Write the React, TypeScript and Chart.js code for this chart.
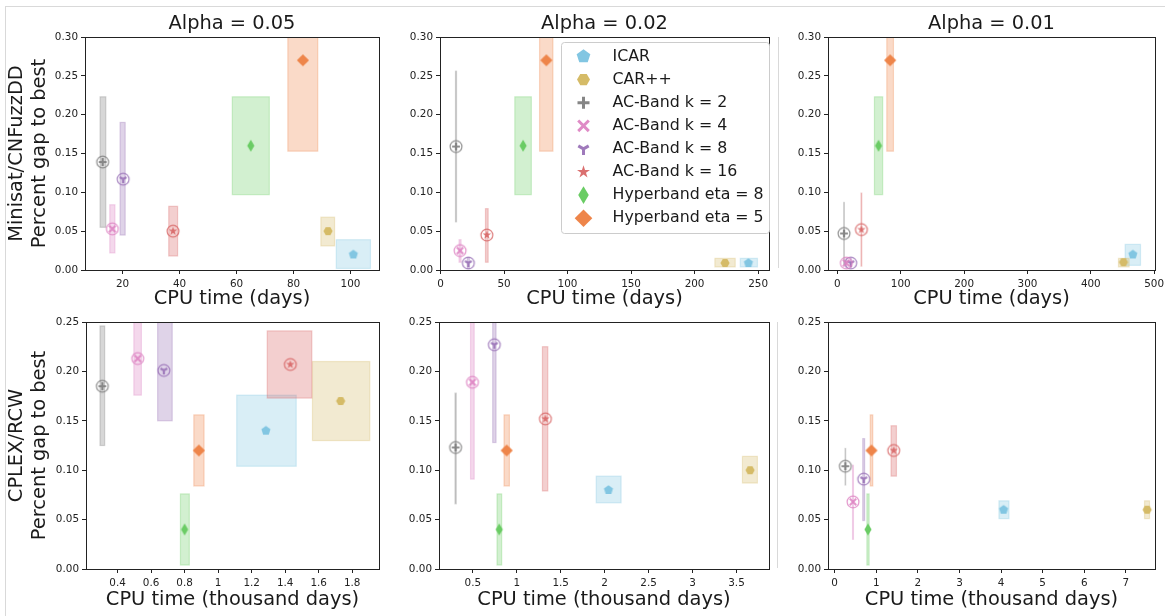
import React, { useEffect, useRef } from 'react';
import { Chart, registerables } from 'chart.js';

Chart.register(...registerables);
Chart.defaults.font.family = "'DejaVu Sans', sans-serif";

// ---------------- data ----------------
const SERIES_LABELS = [
  'ICAR',
  'CAR++',
  'AC-Band k = 2',
  'AC-Band k = 4',
  'AC-Band k = 8',
  'AC-Band k = 16',
  'Hyperband eta = 8',
  'Hyperband eta = 5',
];

const COL_TITLES = ['Alpha = 0.05', 'Alpha = 0.02', 'Alpha = 0.01'];
const ROW_Y_TITLES = [
  ['Minisat/CNFuzzDD', 'Percent gap to best'],
  ['CPLEX/RCW', 'Percent gap to best'],
];
const ROW_X_TITLES = ['CPU time (days)', 'CPU time (thousand days)'];

const TOP_Y_TICKS = [0, 0.05, 0.1, 0.15, 0.2, 0.25, 0.3];
const BOTTOM_Y_TICKS = [0, 0.05, 0.1, 0.15, 0.2, 0.25];
const MINISAT_A05_X_TICKS = [20, 40, 60, 80, 100];
const MINISAT_A02_X_TICKS = [0, 50, 100, 150, 200, 250];
const MINISAT_A01_X_TICKS = [0, 100, 200, 300, 400, 500];
const CPLEX_A05_X_TICKS = [0.4, 0.6, 0.8, 1, 1.2, 1.4, 1.6, 1.8];
const CPLEX_A02_X_TICKS = [0.5, 1, 1.5, 2, 2.5, 3, 3.5];
const CPLEX_A01_X_TICKS = [0, 1, 2, 3, 4, 5, 6, 7];

const X_MIN = [6.8, -0.4, -14.8, 0.2115, 0.115, -0.16];
const X_MAX = [110.0, 258.6, 501.3, 1.96, 3.87, 7.7];
const Y_MAX = [0.3, 0.3, 0.3, 0.25, 0.25, 0.25];

// Minisat/CNFuzzDD, alpha = 0.05
const minisatA05X = [101.0, 92.1, 13.0, 16.4, 20.2, 37.7, 65.0, 83.3];
const minisatA05Y = [0.02, 0.05, 0.139, 0.053, 0.117, 0.05, 0.16, 0.27];
const minisatA05XLo = [95.0, 89.6, 12.1, 15.5, 19.1, 36.2, 58.5, 78.0];
const minisatA05XHi = [107.0, 94.4, 14.1, 17.3, 20.9, 39.3, 71.5, 88.5];
const minisatA05YLo = [0.002, 0.031, 0.055, 0.022, 0.045, 0.018, 0.097, 0.153];
const minisatA05YHi = [0.039, 0.068, 0.223, 0.084, 0.19, 0.082, 0.223, 0.387];

// Minisat/CNFuzzDD, alpha = 0.02
const minisatA02X = [242.4, 224.0, 12.2, 15.4, 21.9, 36.5, 65.0, 83.3];
const minisatA02Y = [0.009, 0.009, 0.159, 0.025, 0.009, 0.045, 0.16, 0.27];
const minisatA02XLo = [236.0, 216.0, 11.8, 14.6, 21.1, 35.4, 58.5, 78.0];
const minisatA02XHi = [249.5, 232.0, 12.6, 16.2, 22.7, 37.5, 71.5, 88.5];
const minisatA02YLo = [0.004, 0.004, 0.062, 0.01, 0.002, 0.01, 0.097, 0.153];
const minisatA02YHi = [0.015, 0.015, 0.256, 0.039, 0.016, 0.079, 0.223, 0.387];

// Minisat/CNFuzzDD, alpha = 0.01
const minisatA01X = [466.3, 451.5, 10.5, 14.2, 21.1, 37.9, 65.0, 83.3];
const minisatA01Y = [0.02, 0.01, 0.047, 0.009, 0.009, 0.052, 0.16, 0.27];
const minisatA01XLo = [454.2, 443.6, 10.0, 13.5, 20.3, 37.3, 58.5, 78.0];
const minisatA01XHi = [478.4, 460.5, 11.0, 14.9, 21.9, 38.5, 71.5, 88.5];
const minisatA01YLo = [0.006, 0.004, 0.007, 0.003, 0.003, 0.005, 0.097, 0.153];
const minisatA01YHi = [0.033, 0.015, 0.087, 0.015, 0.015, 0.099, 0.223, 0.387];

// CPLEX/RCW, alpha = 0.05 (thousand days)
const cplexA05X = [1.285, 1.731, 0.309, 0.52, 0.676, 1.431, 0.8, 0.885];
const cplexA05Y = [0.14, 0.17, 0.185, 0.213, 0.201, 0.207, 0.04, 0.12];
const cplexA05XLo = [1.111, 1.563, 0.295, 0.497, 0.639, 1.293, 0.775, 0.855];
const cplexA05XHi = [1.466, 1.905, 0.323, 0.542, 0.726, 1.559, 0.828, 0.916];
const cplexA05YLo = [0.104, 0.13, 0.125, 0.176, 0.15, 0.173, 0.004, 0.084];
const cplexA05YHi = [0.176, 0.21, 0.246, 0.25, 0.252, 0.241, 0.076, 0.156];

// CPLEX/RCW, alpha = 0.02
const cplexA02X = [2.043, 3.655, 0.304, 0.496, 0.745, 1.326, 0.8, 0.885];
const cplexA02Y = [0.08, 0.1, 0.123, 0.189, 0.227, 0.152, 0.04, 0.12];
const cplexA02XLo = [1.904, 3.568, 0.297, 0.474, 0.726, 1.292, 0.775, 0.855];
const cplexA02XHi = [2.187, 3.738, 0.311, 0.515, 0.764, 1.353, 0.828, 0.916];
const cplexA02YLo = [0.067, 0.087, 0.066, 0.091, 0.128, 0.079, 0.004, 0.084];
const cplexA02YHi = [0.094, 0.114, 0.178, 0.287, 0.326, 0.225, 0.076, 0.156];

// CPLEX/RCW, alpha = 0.01
const cplexA01X = [4.061, 7.512, 0.257, 0.441, 0.698, 1.42, 0.8, 0.885];
const cplexA01Y = [0.06, 0.06, 0.104, 0.068, 0.091, 0.12, 0.04, 0.12];
const cplexA01XLo = [3.949, 7.448, 0.25, 0.43, 0.675, 1.356, 0.775, 0.855];
const cplexA01XHi = [4.19, 7.568, 0.265, 0.452, 0.72, 1.485, 0.828, 0.916];
const cplexA01YLo = [0.051, 0.051, 0.085, 0.03, 0.049, 0.094, 0.004, 0.084];
const cplexA01YHi = [0.069, 0.069, 0.122, 0.105, 0.132, 0.145, 0.076, 0.156];

// ---------------- styles ----------------
const COLORS = ['#82c6e2', '#d5bb67', '#797979', '#dc7ec0', '#956cb4', '#d65f5f', '#6acc64', '#ee854a'];
const MARKERS = ['pentagon', 'hexagon', 'plus', 'x', 'tri', 'star', 'thin_diamond', 'diamond'];
const RINGED = [false, false, true, true, true, true, false, false];
const PLOT_SIZE: Record<string, number> = {
  pentagon: 4.8, hexagon: 4.6, plus: 3.9, x: 3.2, tri: 3.9, star: 4.5, thin_diamond: 6.0, diamond: 6.1,
};
const LEGEND_SIZE: Record<string, number> = {
  pentagon: 7.2, hexagon: 6.5, plus: 6, x: 5.3, tri: 6, star: 6.8, thin_diamond: 8.8, diamond: 8.8,
};
const TEXT = '#1a1a1a';
const AXIS = '#222';
const FONT = "'DejaVu Sans', sans-serif";

function drawShape(ctx: CanvasRenderingContext2D, kind: string, cx: number, cy: number, s: number, color: string, lwScale = 1) {
  ctx.fillStyle = color;
  ctx.strokeStyle = color;
  ctx.lineCap = 'butt';
  const poly = (pts: [number, number][]) => {
    ctx.beginPath();
    pts.forEach(([px, py], i) => (i ? ctx.lineTo(px, py) : ctx.moveTo(px, py)));
    ctx.closePath();
    ctx.fill();
  };
  if (kind === 'pentagon') {
    const pts: [number, number][] = [];
    for (let k = 0; k < 5; k++) {
      const a = -Math.PI / 2 + (k * 2 * Math.PI) / 5;
      pts.push([cx + s * Math.cos(a), cy + s * Math.sin(a)]);
    }
    poly(pts);
  } else if (kind === 'hexagon') {
    const pts: [number, number][] = [];
    for (let k = 0; k < 6; k++) {
      const a = (k * Math.PI) / 3;
      pts.push([cx + s * Math.cos(a), cy + s * Math.sin(a)]);
    }
    poly(pts);
  } else if (kind === 'plus') {
    ctx.lineWidth = s * 0.5 * lwScale;
    ctx.beginPath();
    ctx.moveTo(cx - s, cy);
    ctx.lineTo(cx + s, cy);
    ctx.moveTo(cx, cy - s);
    ctx.lineTo(cx, cy + s);
    ctx.stroke();
  } else if (kind === 'x') {
    ctx.lineWidth = s * 0.55 * lwScale;
    ctx.beginPath();
    ctx.moveTo(cx - s, cy - s);
    ctx.lineTo(cx + s, cy + s);
    ctx.moveTo(cx - s, cy + s);
    ctx.lineTo(cx + s, cy - s);
    ctx.stroke();
  } else if (kind === 'tri') {
    ctx.lineWidth = s * 0.5 * lwScale;
    ctx.beginPath();
    ctx.moveTo(cx, cy);
    ctx.lineTo(cx, cy + s);
    ctx.moveTo(cx, cy);
    ctx.lineTo(cx - s * 0.866, cy - s * 0.5);
    ctx.moveTo(cx, cy);
    ctx.lineTo(cx + s * 0.866, cy - s * 0.5);
    ctx.stroke();
  } else if (kind === 'star') {
    const pts: [number, number][] = [];
    for (let k = 0; k < 10; k++) {
      const r = k % 2 === 0 ? s : s * 0.382;
      const a = -Math.PI / 2 + (k * Math.PI) / 5;
      pts.push([cx + r * Math.cos(a), cy + r * Math.sin(a)]);
    }
    poly(pts);
  } else if (kind === 'thin_diamond') {
    poly([[cx, cy - s], [cx + 0.6 * s, cy], [cx, cy + s], [cx - 0.6 * s, cy]]);
  } else if (kind === 'diamond') {
    poly([[cx, cy - s], [cx + s, cy], [cx, cy + s], [cx - s, cy]]);
  }
}

function makeMarkerImage(i: number): HTMLCanvasElement {
  const size = 18;
  const c = document.createElement('canvas');
  c.width = size;
  c.height = size;
  const ctx = c.getContext('2d') as CanvasRenderingContext2D;
  const m = size / 2;
  if (RINGED[i]) {
    ctx.globalAlpha = 0.8;
    ctx.beginPath();
    ctx.arc(m, m, 5.9, 0, Math.PI * 2);
    ctx.lineWidth = 1.25;
    ctx.strokeStyle = COLORS[i];
    ctx.stroke();
  }
  ctx.globalAlpha = RINGED[i] ? 0.85 : 1;
  drawShape(ctx, MARKERS[i], m, m, PLOT_SIZE[MARKERS[i]], COLORS[i], 1.15);
  return c;
}

type PanelDef = {
  title: string | null;
  yTitle: string[] | null;
  xTitle: string;
  x: number[]; y: number[]; xLo: number[]; xHi: number[]; yLo: number[]; yHi: number[];
  xMin: number; xMax: number; yMax: number;
  xTicks: number[]; yTicks: number[];
  legend: boolean;
  left: number; top: number; width: number; height: number;
  yAxisW: number; xAxisH: number; padTop: number; padRight: number; xTitlePad: number;
};

const PANEL_DATA = [
  [minisatA05X, minisatA05Y, minisatA05XLo, minisatA05XHi, minisatA05YLo, minisatA05YHi, MINISAT_A05_X_TICKS],
  [minisatA02X, minisatA02Y, minisatA02XLo, minisatA02XHi, minisatA02YLo, minisatA02YHi, MINISAT_A02_X_TICKS],
  [minisatA01X, minisatA01Y, minisatA01XLo, minisatA01XHi, minisatA01YLo, minisatA01YHi, MINISAT_A01_X_TICKS],
  [cplexA05X, cplexA05Y, cplexA05XLo, cplexA05XHi, cplexA05YLo, cplexA05YHi, CPLEX_A05_X_TICKS],
  [cplexA02X, cplexA02Y, cplexA02XLo, cplexA02XHi, cplexA02YLo, cplexA02YHi, CPLEX_A02_X_TICKS],
  [cplexA01X, cplexA01Y, cplexA01XLo, cplexA01XHi, cplexA01YLo, cplexA01YHi, CPLEX_A01_X_TICKS],
];

// layout per column / row
const COL_LEFT = [0, 392, 780];
const COL_WIDTH = [385, 383, 385];
const COL_PAD_RIGHT = [4, 4, 10];
const ROW_TOP = [0, 312];
const ROW_HEIGHT = [312, 304];
const ROW_X_AXIS_H = [42, 47];
const ROW_X_TITLE_PAD = [1.4, 4.4];
const Y_AXIS_W = [85, 48, 48, 86, 47, 48];

const PANELS: PanelDef[] = PANEL_DATA.map((d, idx) => {
  const row = Math.floor(idx / 3);
  const col = idx % 3;
  return {
    title: row === 0 ? COL_TITLES[col] : null,
    yTitle: col === 0 ? ROW_Y_TITLES[row] : null,
    xTitle: ROW_X_TITLES[row],
    x: d[0], y: d[1], xLo: d[2], xHi: d[3], yLo: d[4], yHi: d[5], xTicks: d[6],
    xMin: X_MIN[idx], xMax: X_MAX[idx], yMax: Y_MAX[idx],
    yTicks: row === 0 ? TOP_Y_TICKS : BOTTOM_Y_TICKS,
    legend: idx === 1,
    left: COL_LEFT[col], top: ROW_TOP[row], width: COL_WIDTH[col], height: ROW_HEIGHT[row],
    yAxisW: Y_AXIS_W[idx], xAxisH: ROW_X_AXIS_H[row], padTop: row === 0 ? 0 : 10,
    padRight: COL_PAD_RIGHT[col], xTitlePad: ROW_X_TITLE_PAD[row],
  };
});

function Panel({ p }: { p: PanelDef }) {
  const ref = useRef<HTMLCanvasElement | null>(null);
  useEffect(() => {
    const canvas = ref.current;
    if (!canvas) return;
    const images = SERIES_LABELS.map((_, i) => makeMarkerImage(i));

    const rangesPlugin = {
      id: 'ranges',
      beforeDatasetsDraw(chart: any) {
        const { ctx, chartArea: a } = chart;
        const xs = chart.scales.x;
        const ys = chart.scales.y;
        ctx.save();
        ctx.beginPath();
        ctx.rect(a.left, a.top, a.right - a.left, a.bottom - a.top);
        ctx.clip();
        SERIES_LABELS.forEach((_, i) => {
          const x1 = xs.getPixelForValue(p.xLo[i]);
          const x2 = xs.getPixelForValue(p.xHi[i]);
          const y1 = ys.getPixelForValue(p.yHi[i]);
          const y2 = ys.getPixelForValue(p.yLo[i]);
          ctx.globalAlpha = 0.3;
          ctx.fillStyle = COLORS[i];
          ctx.fillRect(x1, y1, x2 - x1, y2 - y1);
          ctx.strokeStyle = COLORS[i];
          ctx.lineWidth = 1.2;
          ctx.strokeRect(x1, y1, x2 - x1, y2 - y1);
        });
        ctx.restore();
      },
    };

    const framePlugin = {
      id: 'frame',
      afterDraw(chart: any) {
        const { ctx, chartArea: a } = chart;
        const l = Math.round(a.left - 0.5) + 0.5;
        const t = Math.round(a.top - 0.5) + 0.5;
        const r = Math.round(a.right - 0.5) + 0.5;
        const b = Math.round(a.bottom - 0.5) + 0.5;
        ctx.save();
        ctx.strokeStyle = AXIS;
        ctx.lineWidth = 1;
        ctx.strokeRect(l, t, r - l, b - t);
        ctx.restore();
      },
    };

    const legendPlugin = {
      id: 'insetLegend',
      afterDraw(chart: any) {
        if (!p.legend) return;
        const { ctx, chartArea: a } = chart;
        const bw = 208;
        const bh = 191;
        const bx = Math.round(a.right) - bw + 0.5;
        const by = Math.round(a.top) + 5 + 0.5;
        const rr = 3;
        ctx.save();
        ctx.beginPath();
        ctx.moveTo(bx + rr, by);
        ctx.arcTo(bx + bw, by, bx + bw, by + bh, rr);
        ctx.arcTo(bx + bw, by + bh, bx, by + bh, rr);
        ctx.arcTo(bx, by + bh, bx, by, rr);
        ctx.arcTo(bx, by, bx + bw, by, rr);
        ctx.closePath();
        ctx.fillStyle = 'rgba(255,255,255,0.85)';
        ctx.fill();
        ctx.strokeStyle = '#cccccc';
        ctx.lineWidth = 1;
        ctx.stroke();
        SERIES_LABELS.forEach((label, i) => {
          const cy = by + 14 + i * 23.1;
          ctx.globalAlpha = RINGED[i] ? 0.9 : 1;
          drawShape(ctx, MARKERS[i], bx + 22, cy, LEGEND_SIZE[MARKERS[i]], COLORS[i]);
          ctx.globalAlpha = 1;
          ctx.fillStyle = TEXT;
          ctx.font = `15.8px ${FONT}`;
          ctx.textBaseline = 'middle';
          ctx.textAlign = 'left';
          ctx.fillText(label, bx + 51, cy);
        });
        ctx.restore();
      },
    };

    const zeroPad = (s: any) => {
      s.paddingLeft = 0;
      s.paddingRight = 0;
      s.paddingTop = 0;
      s.paddingBottom = 0;
    };

    const chart = new Chart(canvas, {
      type: 'scatter',
      data: {
        datasets: SERIES_LABELS.map((label, i) => ({
          label,
          data: [{ x: p.x[i], y: p.y[i] }],
          pointStyle: images[i],
          pointRadius: 6,
          pointHoverRadius: 6,
          backgroundColor: COLORS[i],
          borderColor: COLORS[i],
          borderWidth: 0,
        })),
      },
      options: {
        responsive: false,
        animation: false,
        events: [],
        layout: { padding: { top: p.padTop, right: p.padRight, left: 0, bottom: 0 } },
        plugins: {
          legend: { display: false },
          tooltip: { enabled: false },
          title: {
            display: !!p.title,
            text: p.title ?? '',
            fullSize: false,
            color: TEXT,
            font: { size: 19.4, weight: 'normal', family: FONT, lineHeight: 1.2 },
            padding: { top: 12.36, bottom: 1.36 },
          },
        },
        scales: {
          x: {
            type: 'linear',
            min: p.xMin,
            max: p.xMax,
            afterBuildTicks: (s: any) => {
              s.ticks = p.xTicks.map((v) => ({ value: v }));
            },
            afterFit: (s: any) => {
              s.height = p.xAxisH;
              zeroPad(s);
            },
            ticks: {
              autoSkip: false,
              maxRotation: 0,
              minRotation: 0,
              padding: 4,
              color: AXIS,
              font: { size: 10.4, family: FONT },
              callback: (v: any) => String(v),
            },
            grid: { display: true, drawOnChartArea: false, drawTicks: true, tickLength: 4, color: AXIS, lineWidth: 1 },
            border: { display: true, color: AXIS, width: 1 },
            title: {
              display: true,
              text: p.xTitle,
              color: TEXT,
              font: { size: 19.4, family: FONT, lineHeight: 1.2 },
              padding: { top: 0, bottom: p.xTitlePad },
            },
          },
          y: {
            type: 'linear',
            min: 0,
            max: p.yMax,
            afterBuildTicks: (s: any) => {
              s.ticks = p.yTicks.map((v) => ({ value: v }));
            },
            afterFit: (s: any) => {
              s.width = p.yAxisW;
              zeroPad(s);
            },
            ticks: {
              autoSkip: false,
              padding: 3,
              color: AXIS,
              font: { size: 10.4, family: FONT },
              callback: (v: any) => Number(v).toFixed(2),
            },
            grid: { display: true, drawOnChartArea: false, drawTicks: true, tickLength: 4, color: AXIS, lineWidth: 1 },
            border: { display: true, color: AXIS, width: 1 },
            title: {
              display: !!p.yTitle,
              text: p.yTitle ?? '',
              color: TEXT,
              font: { size: 19.4, family: FONT, lineHeight: 1.2 },
              padding: { top: 5.3, bottom: 0 },
            },
          },
        },
      } as any,
      plugins: [rangesPlugin, framePlugin, legendPlugin],
    });
    return () => chart.destroy();
  }, [p]);

  return (
    <canvas
      ref={ref}
      width={p.width}
      height={p.height}
      style={{ position: 'absolute', left: p.left, top: p.top, width: p.width, height: p.height }}
    />
  );
}

export default function App() {
  const line = '#d9d9d9';
  return (
    <div style={{ position: 'fixed', left: 0, top: 0, width: 1165, height: 616, background: '#fff', overflow: 'hidden' }}>
      <div style={{ position: 'absolute', left: 5, top: 6, width: 1160, height: 0, borderTop: `1px solid ${line}` }} />
      <div style={{ position: 'absolute', left: 5, top: 6, width: 0, height: 610, borderLeft: `1px solid ${line}` }} />
      <div style={{ position: 'absolute', left: 778, top: 37, width: 0, height: 231, borderLeft: `1px solid ${line}` }} />
      <div style={{ position: 'absolute', left: 777, top: 322, width: 0, height: 246, borderLeft: `1px solid ${line}` }} />
      {PANELS.map((p, i) => (
        <Panel key={i} p={p} />
      ))}
    </div>
  );
}
